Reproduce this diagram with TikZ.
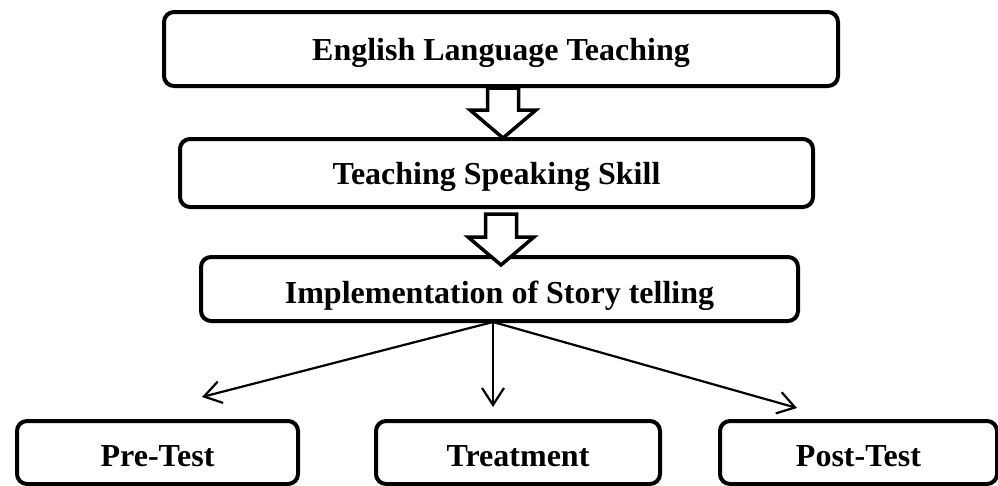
\documentclass[tikz,border=0pt]{standalone}
\usepackage{fontspec}
\setmainfont{Liberation Serif}
\usetikzlibrary{calc}
\usetikzlibrary{arrows.meta}

\tikzset{
  box/.style={draw, line width=4pt, rounded corners=10pt, fill=white, inner sep=0pt,
    font=\fontsize{32}{36}\selectfont\bfseries, text height=22pt, text depth=0pt},
  lowtext/.style={text height=28pt},
  hollow/.style={draw, line width=3.5pt, fill=white, line join=miter},
  branch/.style={line width=2.2pt, -{Straight Barb[length=17pt,width=22pt]}}
}

\begin{document}
\begin{tikzpicture}[x=1pt,y=-1pt]
\useasboundingbox (0,0) rectangle (998,485);
\node[box, minimum width=674pt, minimum height=74pt] (elt) at (501,49) {English Language Teaching};
\node[box, minimum width=633pt, minimum height=68pt] (tss) at (496.5,173) {Teaching Speaking Skill};
\node[box, lowtext, minimum width=597pt, minimum height=64pt] (ist) at (499.5,289) {Implementation of Story telling};
\foreach \name/\xc/\w/\txt in {pre/157.5/281/Pre-Test, treat/518/284/Treatment, post/858.5/277/Post-Test} {
 \node[box, lowtext, minimum width=\w pt, minimum height=63pt] (\name) at (\xc,452.5) {\txt};
}
% hollow block arrows
\foreach \a/\b/\dx/\ds/\dt in {elt/tss/2/0/1, tss/ist/4.5/5/10} {
 \draw[hollow] let \p1=($(\a.south)+(\dx,\ds)$), \p2=($(\b.north)+(0,\dt)$) in
   (\x1-15.5pt,\y1) -- (\x1-15.5pt,\y2+28pt) -- (\x1-33pt,\y2+28pt) -- (\x1,\y2)
   -- (\x1+33pt,\y2+28pt) -- (\x1+15.5pt,\y2+28pt) -- (\x1+15.5pt,\y1) -- cycle;
}
% branches
\coordinate (fork) at ($(ist.south)+(-6.5,-1)$);
\coordinate (preTip) at (202,397);
\coordinate (treatTip) at (493,407);
\coordinate (postTip) at (797,408);
\foreach \t in {preTip, treatTip, postTip} {
 \draw[branch] (fork) -- (\t);
}
\end{tikzpicture}
\end{document}
